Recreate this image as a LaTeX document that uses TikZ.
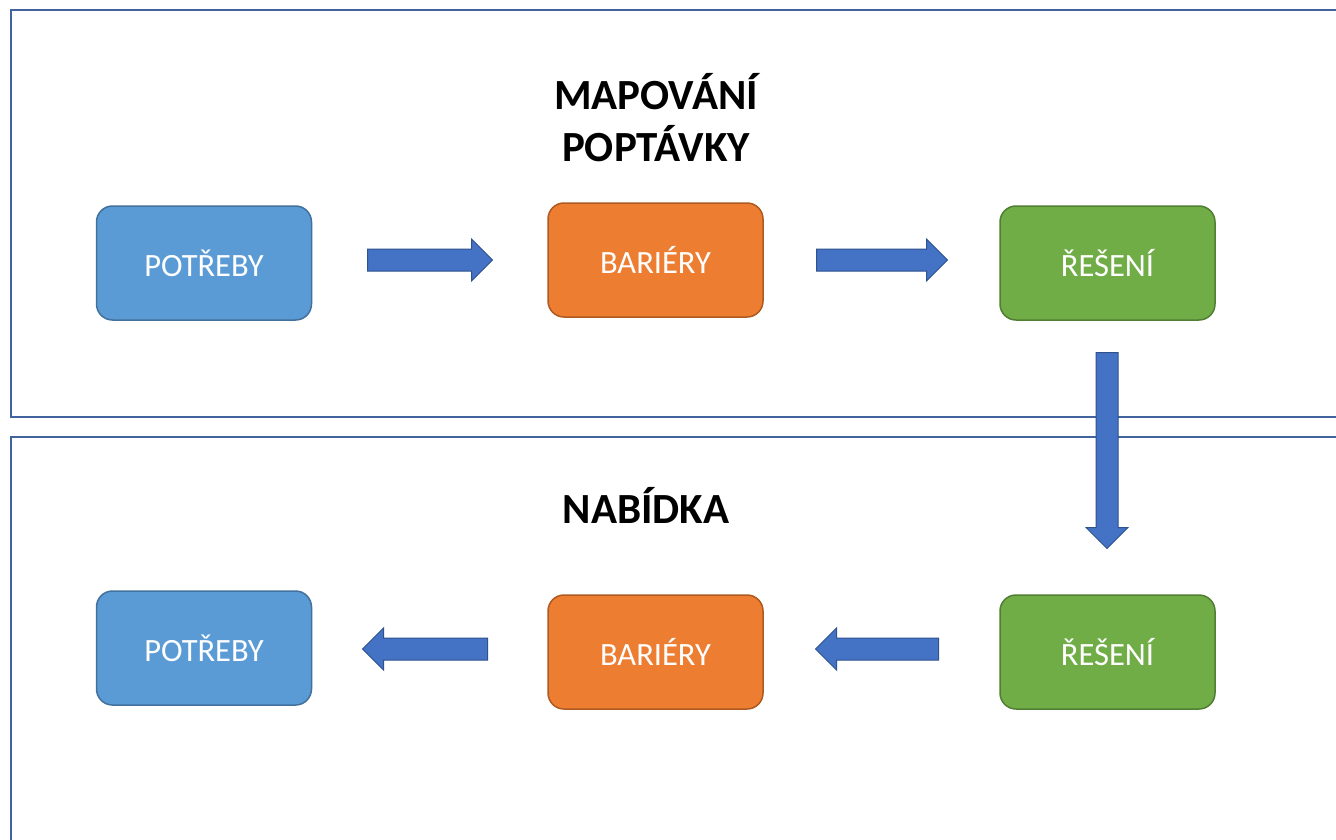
\documentclass[tikz,border=0pt]{standalone}
\usepackage{fontspec}
\setmainfont{Carlito}
\usetikzlibrary{shapes.arrows}
\definecolor{panelline}{HTML}{41649E}
\definecolor{bluef}{HTML}{5B9BD5}\definecolor{bluel}{HTML}{41719C}
\definecolor{orangef}{HTML}{ED7D31}\definecolor{orangel}{HTML}{AE5A21}
\definecolor{greenf}{HTML}{70AD47}\definecolor{greenl}{HTML}{507E32}
\definecolor{arrowf}{HTML}{4472C4}\definecolor{arrowl}{HTML}{2F528F}
\tikzset{
  panel/.style={draw=panelline,line width=2pt},
  stepbox/.style={rounded corners=16pt,line width=1.5pt,minimum width=215pt,minimum height=114pt,text=white,font=\fontsize{32.5}{38}\selectfont,inner sep=0pt},
  needbox/.style={stepbox,fill=bluef,draw=bluel},
  barbox/.style={stepbox,fill=orangef,draw=orangel},
  solbox/.style={stepbox,fill=greenf,draw=greenl},
  blockarrow/.style={single arrow,fill=arrowf,draw=arrowl,line width=1pt,inner sep=10.5pt,minimum width=42pt,single arrow head extend=10pt,single arrow tip angle=90,anchor=tail},
  heading/.style={font=\bfseries\fontsize{43}{52}\selectfont,align=center}
}
\begin{document}
\begin{tikzpicture}[x=1pt,y=-1pt]
\useasboundingbox (0,0) rectangle (1336,840);
\clip (0,0) rectangle (1336,840);
\fill[white] (0,0) rectangle (1336,840);
\draw[panel] (11,10) rectangle (1350,417);
\draw[panel] (11,437) rectangle (1350,860);
\node[heading] (t1) at (656,118) {MAPOVÁNÍ\\POPTÁVKY};
\node[heading] (t2) at (646,505) {NABÍDKA};
\node[needbox] (n1) at (204,263) {POTŘEBY};
\node[barbox] (b1) at (655.5,260) {BARIÉRY};
\node[solbox] (s1) at (1107.5,263) {ŘEŠENÍ};
\node[needbox] (n2) at (204,648) {POTŘEBY};
\node[barbox] (b2) at (655.5,652) {BARIÉRY};
\node[solbox] (s2) at (1107.5,652) {ŘEŠENÍ};
\node[blockarrow,minimum height=125pt] (a1) at (367,260) {};
\node[blockarrow,minimum height=131pt] (a2) at (816,260) {};
\node[blockarrow,minimum height=196pt,shape border rotate=270] (a3) at (1107,352) {};
\node[blockarrow,minimum height=125pt,shape border rotate=180] (a4) at (488,649) {};
\node[blockarrow,minimum height=123pt,shape border rotate=180] (a5) at (939,649) {};
\end{tikzpicture}
\end{document}
